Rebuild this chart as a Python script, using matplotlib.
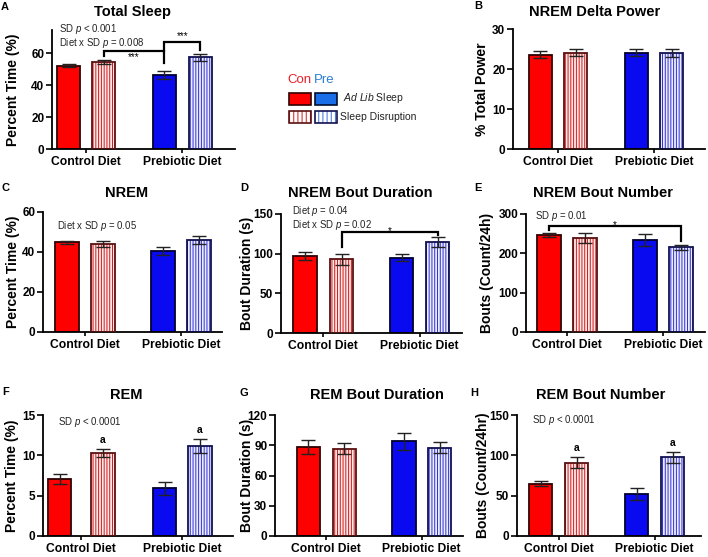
import matplotlib
matplotlib.use('Agg')
import matplotlib.pyplot as plt
from matplotlib.patches import Rectangle

plt.rcParams['font.family'] = ['Liberation Sans', 'DejaVu Sans']
plt.rcParams['mathtext.fontset'] = 'custom'
plt.rcParams['mathtext.rm'] = 'Liberation Sans'
plt.rcParams['mathtext.it'] = 'Liberation Sans:italic'
plt.rcParams['hatch.linewidth'] = 0.7

# datos (orden: Con ad lib, Con SD, Pre ad lib, Pre SD)
grupos = ['Control Diet', 'Prebiotic Diet']

total_sleep = [52.0, 54.5, 46.3, 57.3]
total_sleep_err = [1.0, 1.1, 2.4, 2.0]

delta_power = [23.6, 24.1, 24.1, 23.9]
delta_power_err = [0.8, 0.8, 0.8, 1.0]

nrem = [44.8, 44.0, 40.5, 46.0]
nrem_err = [0.8, 1.6, 2.2, 1.9]

nrem_dur = [97.0, 93.0, 95.0, 115.0]
nrem_dur_err = [5.5, 7.0, 4.0, 6.5]

nrem_num = [247.0, 239.0, 234.0, 215.0]
nrem_num_err = [5.0, 13.0, 15.0, 7.0]

rem = [7.05, 10.3, 5.9, 11.15]
rem_err = [0.6, 0.5, 0.8, 0.9]

rem_dur = [88.3, 86.7, 94.0, 87.7]
rem_dur_err = [6.5, 5.3, 8.3, 5.3]

rem_num = [65.0, 91.0, 52.0, 97.5]
rem_num_err = [3.0, 6.5, 7.0, 7.0]

# estilo de barras
rellenos = ['#ff0000', '#fbe9e9', '#0a0af0', '#ececff']
rayas = [None, '#d01818', None, '#3030d0']
bordes = ['#300000', '#5a1010', '#000030', '#101050']

W, H = 708, 557
fig = plt.figure(figsize=(W / 100, H / 100), dpi=100)


def px(x, y):
    return x / W, 1 - y / H


def panel(caja, centros, vals, errs, ytop, yticks, ylabel, ylab_x):
    l, t, r, b = caja
    ax = fig.add_axes([l / W, 1 - b / H, (r - l) / W, (b - t) / H])
    xs = [c - l for c in centros]
    for i in range(4):
        if rayas[i] is None:
            ax.bar(xs[i], vals[i], 23.3, color=rellenos[i], edgecolor=bordes[i],
                   linewidth=1.3, zorder=2)
        else:
            ax.bar(xs[i], vals[i], 23.3, color=rellenos[i], edgecolor=rayas[i],
                   hatch='||||||', linewidth=0, zorder=2)
            ax.bar(xs[i], vals[i], 23.3, fill=False, edgecolor=bordes[i],
                   linewidth=1.3, zorder=3)
    ax.errorbar(xs, vals, yerr=errs, fmt='none', ecolor='#222222',
                elinewidth=1, capsize=5, capthick=1, zorder=4)
    ax.set_xlim(0, r - l)
    ax.set_ylim(0, ytop)
    ax.set_yticks(yticks)
    ax.set_xticks([(xs[0] + xs[1]) / 2, (xs[2] + xs[3]) / 2])
    ax.set_xticklabels(grupos)
    ax.spines[['top', 'right']].set_visible(False)
    ax.spines[['left', 'bottom']].set_linewidth(1.3)
    ax.tick_params(axis='y', length=4, width=1.2, labelsize=8.5, pad=1.5)
    ax.tick_params(axis='x', length=3, width=1.2, labelsize=8.7, pad=2)
    for lbl in ax.get_xticklabels() + ax.get_yticklabels():
        lbl.set_fontweight('bold')
    ax.set_ylabel(ylabel, fontsize=10, fontweight='bold', va='center')
    ax.yaxis.set_label_coords((ylab_x - l) / (r - l), 0.5)
    return ax, xs


def texto(x, y, s, **kw):
    fig.text(*px(x, y), s, **kw)


def titulo(x, y, s, letra, lx, ly):
    texto(x, y, s, fontsize=10.5, fontweight='bold', ha='center', va='center')
    texto(lx, ly, letra, fontsize=8, fontweight='bold', ha='center', va='center')


def corchete(ax, x0, x1, y0, ytop, y1):
    ax.plot([x0, x0, x1, x1], [y0, ytop, ytop, y1], color='black', lw=1.6,
            solid_joinstyle='miter', zorder=5, clip_on=False)


def letra_a(ax, xs, vals, errs, ytop, idx):
    for i in idx:
        ax.text(xs[i], vals[i] + errs[i] + 0.075 * ytop, 'a', fontsize=7.5,
                fontweight='bold', ha='center', va='center')


nota = dict(fontsize=6.9, ha='left', va='center', color='#222222')

# A
ax, xs = panel((52, 30, 235, 149), [68.7, 103.8, 164.2, 200.5], total_sleep,
               total_sleep_err, 74.4, [0, 20, 40, 60], 'Percent Time (%)', 13)
titulo(133, 12, 'Total Sleep', 'A', 5, 7)
texto(59, 29.5, 'SD $p$ < 0.001', **nota)
texto(59, 42.5, 'Diet x SD $p$ = 0.008', **nota)
corchete(ax, xs[1], xs[2], 58.1, 61.4, 53.5)
corchete(ax, xs[2], xs[3], 61.4, 67.0, 61.9)
ax.text((xs[1] + xs[2]) / 2, 57.2, '***', fontsize=7, ha='center', va='center')
ax.text((xs[2] + xs[3]) / 2, 70.8, '***', fontsize=7, ha='center', va='center')

# B
ax, xs = panel((513, 29, 705, 149), [540.3, 575.8, 636.2, 671.8], delta_power,
               delta_power_err, 30, [0, 10, 20, 30], '% Total Power', 482)
titulo(595, 12, 'NREM Delta Power', 'B', 478, 6)

# leyenda
texto(287, 80, 'Con', fontsize=9.5, color='#e8202a', ha='left', va='center')
texto(314, 80, 'Pre', fontsize=9.5, color='#2a7fd4', ha='left', va='center')
leg = [(289, 93, '#ff0000', None, '#300000'), (315, 93, '#1a6fe8', None, '#001030'),
       (289, 111, '#ffffff', '#d01818', '#5a1010'), (315, 111, '#ffffff', '#3a70d8', '#101050')]
for x0, y0, fc, hc, ec in leg:
    lx, ly = px(x0, y0 + 12)
    if hc is None:
        fig.patches.append(Rectangle((lx, ly), 22 / W, 11.5 / H, transform=fig.transFigure,
                                     facecolor=fc, edgecolor=ec, lw=1.2))
    else:
        fig.patches.append(Rectangle((lx, ly), 22 / W, 11.5 / H, transform=fig.transFigure,
                                     facecolor=fc, edgecolor=hc, hatch='||||', lw=0))
        fig.patches.append(Rectangle((lx, ly), 22 / W, 11.5 / H, transform=fig.transFigure,
                                     fill=False, edgecolor=ec, lw=1.2))
texto(343, 98, '$Ad\\ Lib$ Sleep', fontsize=7.5, ha='left', va='center', color='#222222')
texto(340, 117, 'Sleep Disruption', fontsize=7.5, ha='left', va='center', color='#222222')

# C
ax, xs = panel((43, 212, 222, 332), [67, 103, 163, 199], nrem, nrem_err,
               60, [0, 20, 40, 60], 'Percent Time (%)', 12.5)
titulo(127, 193, 'NREM', 'C', 5, 188)
texto(57, 226, 'Diet x SD $p$ = 0.05', **nota)

# D
ax, xs = panel((281, 214, 462, 333), [305, 341.7, 401.7, 437.7], nrem_dur,
               nrem_dur_err, 150, [0, 50, 100, 150], 'Bout Duration (s)', 247)
titulo(360, 193, 'NREM Bout Duration', 'D', 244, 188)
texto(292, 211.5, 'Diet $p$ = 0.04', **nota)
texto(292, 224.5, 'Diet x SD $p$ = 0.02', **nota)
corchete(ax, xs[1], xs[3], 108, 127, 123)
ax.text((xs[1] + xs[3]) / 2, 128.5, '*', fontsize=7, ha='center', va='center')

# E
ax, xs = panel((526, 214, 705, 332), [549, 585, 645, 681], nrem_num,
               nrem_num_err, 300, [0, 100, 200, 300], 'Bouts (Count/24h)', 487)
titulo(603, 193, 'NREM Bout Number', 'E', 478, 188)
texto(535, 216, 'SD $p$ = 0.01', **nota)
corchete(ax, xs[0], xs[3], 259, 270, 232)
ax.text((xs[0] + xs[3]) / 2, 272, '*', fontsize=7, ha='center', va='center')

# F
ax, xs = panel((43, 415, 233, 536), [59.5, 103, 164.5, 200], rem, rem_err,
               15, [0, 5, 10, 15], 'Percent Time (%)', 12)
titulo(126, 395, 'REM', 'F', 6, 392)
texto(58, 422, 'SD $p$ < 0.0001', **nota)
letra_a(ax, xs, rem, rem_err, 15, [1, 3])

# G
ax, xs = panel((275, 415, 463, 536), [308.3, 344.2, 404, 439.5], rem_dur,
               rem_dur_err, 120, [0, 30, 60, 90, 120], 'Bout Duration (s)', 247)
titulo(377, 395, 'REM Bout Duration', 'G', 244, 393)

# H
ax, xs = panel((517, 415, 701, 536), [540.5, 576.5, 636.5, 672.5], rem_num,
               rem_num_err, 150, [0, 50, 100, 150], 'Bouts (Count/24hr)', 483)
titulo(601, 395, 'REM Bout Number', 'H', 474, 393)
texto(532, 420, 'SD $p$ < 0.0001', **nota)
letra_a(ax, xs, rem_num, rem_num_err, 150, [1, 3])

fig.savefig('out.png', dpi=100)
